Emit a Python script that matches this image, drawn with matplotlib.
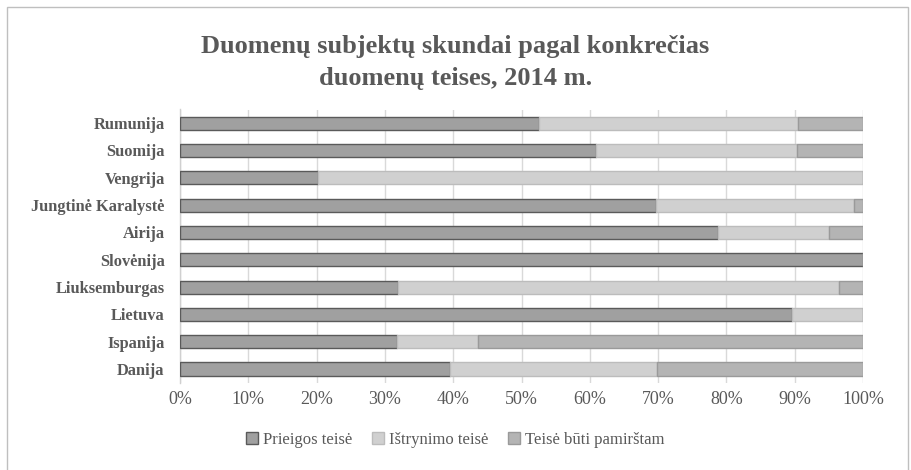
import matplotlib
matplotlib.use("Agg")
import matplotlib.pyplot as plt
from matplotlib.patches import Rectangle
import numpy as np

countries = ["Rumunija", "Suomija", "Vengrija", "Jungtinė Karalystė", "Airija",
             "Slovėnija", "Liuksemburgas", "Lietuva", "Ispanija", "Danija"]
prieigos = [52.6, 60.9, 20.2, 69.7, 78.8, 100.0, 31.9, 89.6, 31.8, 39.5]
istrynimo = [37.9, 29.4, 79.8, 29.0, 16.2, 0.0, 64.6, 10.4, 11.8, 30.3]
pamirstam = [9.5, 9.7, 0.0, 1.3, 5.0, 0.0, 3.5, 0.0, 56.4, 30.2]
series_names = ["Prieigos teisė", "Ištrynimo teisė", "Teisė būti pamirštam"]
xticks = [0, 10, 20, 30, 40, 50, 60, 70, 80, 90, 100]

face = ["#a0a0a0", "#d0d0d0", "#b4b4b4"]
edge = ["#5a5a5a", "#bcbcbc", "#9a9a9a"]
txt = "#595959"
serif = ["Liberation Serif", "DejaVu Serif"]

fig = plt.figure(figsize=(9.11, 4.70), dpi=100)
fig.patches.append(Rectangle((7/911, -0.01), 901/911, 1 - 7/470 + 0.01,
                             transform=fig.transFigure, fill=False,
                             edgecolor="#bfbfbf", linewidth=1.0))
ax = fig.add_axes([180/911, 1 - 382.7/470, 683/911, (382.7 - 109.5)/470])

y = np.arange(len(countries))
h = 0.48
left = np.zeros(len(countries))
handles = []
for vals, fc, ec, name in zip([prieigos, istrynimo, pamirstam], face, edge, series_names):
    b = ax.barh(y, vals, left=left, height=h, color=fc, edgecolor=ec,
                linewidth=1.0, label=name, zorder=3)
    handles.append(b)
    left = left + np.array(vals)

ax.set_xlim(0, 100)
ax.set_ylim(len(countries) - 0.5, -0.5)
ax.set_xticks(xticks)
ax.set_xticklabels([f"{t}%" for t in xticks], fontfamily=serif, fontsize=13, color=txt)
ax.set_yticks(y)
ax.set_yticklabels(countries, fontfamily=serif, fontsize=11.8, fontweight="bold", color=txt)
ax.tick_params(axis="both", length=0)
ax.tick_params(axis="x", pad=6)
ax.tick_params(axis="y", pad=11)
ax.grid(axis="x", color="#d9d9d9", linewidth=1.0, zorder=0)
for s in ["top", "right", "bottom"]:
    ax.spines[s].set_visible(False)
ax.spines["left"].set_color("#d0d0d0")
ax.spines["left"].set_linewidth(1.0)

fig.text(0.5, 1 - 62/470, "Duomenų subjektų skundai pagal konkrečias\nduomenų teises, 2014 m.",
         ha="center", va="center", fontfamily=serif, fontsize=19, fontweight="bold",
         color=txt, linespacing=1.5)

leg = fig.legend(handles=handles, labels=series_names, loc="center",
                 bbox_to_anchor=(0.5, 1 - 440/470), ncol=3, frameon=False,
                 prop={"family": serif, "size": 12}, handlelength=0.7,
                 handleheight=0.7, handletextpad=0.3, columnspacing=1.2)
for t in leg.get_texts():
    t.set_color(txt)

fig.savefig("out.png", dpi=100)
